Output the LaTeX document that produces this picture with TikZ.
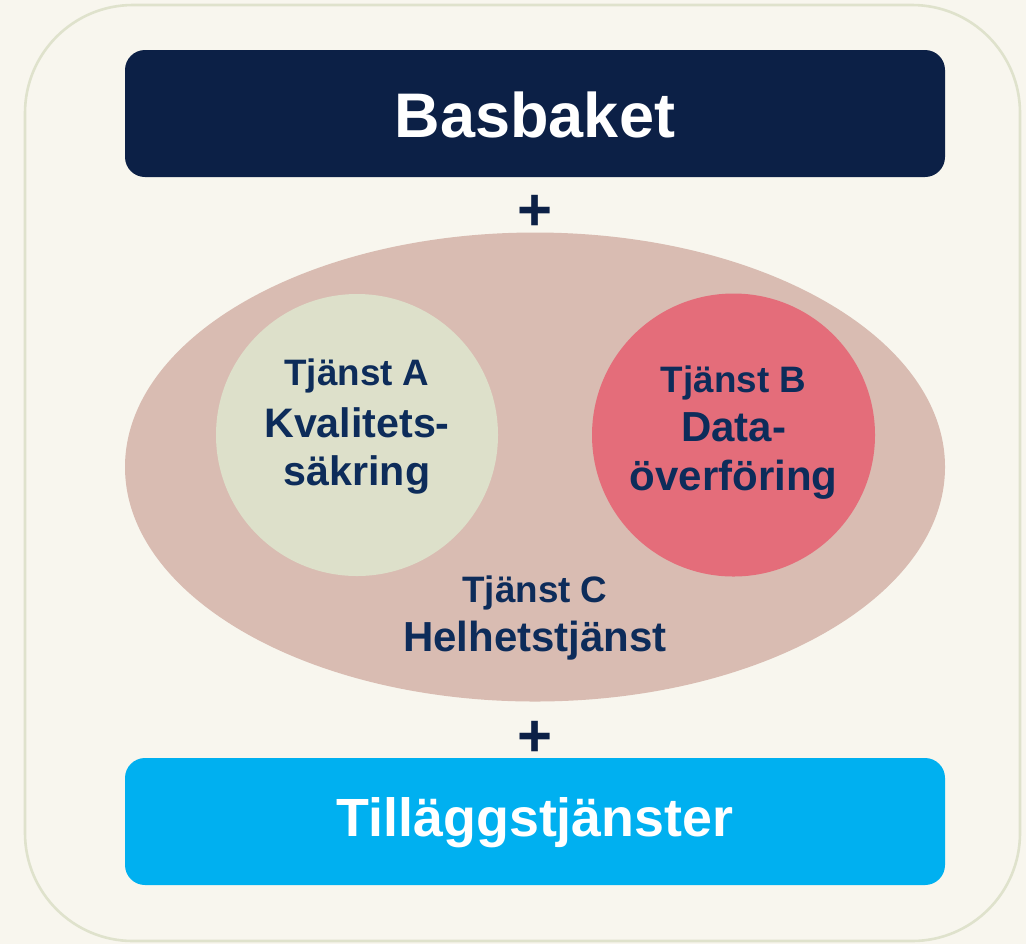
\documentclass[tikz,border=0pt]{standalone}
\usepackage{fontspec}
\setmainfont{Liberation Sans}
\definecolor{bgc}{HTML}{F8F6EE}
\definecolor{frame}{HTML}{DFE2CC}
\definecolor{navy}{HTML}{0C2046}
\definecolor{txt}{HTML}{0D2C5A}
\definecolor{ell}{HTML}{D9BCB2}
\definecolor{circA}{HTML}{DDE0CA}
\definecolor{circB}{HTML}{E46D7A}
\definecolor{cyanbox}{HTML}{00B0F0}
\begin{document}
\begin{tikzpicture}[x=0.5pt,y=-0.5pt,
  big/.style={font=\fontsize{31.5}{36}\selectfont\bfseries},
  small/.style={font=\fontsize{18.4}{25}\selectfont\bfseries, text=txt, align=center},
  med/.style={font=\fontsize{21}{25}\selectfont\bfseries, text=txt, align=center},
  plus/.style={font=\fontsize{30}{30}\selectfont\bfseries, text=navy, inner sep=0pt}]
\fill[bgc] (0,0) rectangle (1026,944);
\useasboundingbox (0,0) rectangle (1026,944);
\draw[frame, line width=1.3pt, fill=bgc, rounded corners=54pt] (25,5) rectangle (1020,941);
\fill[navy, rounded corners=10pt] (125,50) rectangle (945,177);
\node[big, text=white] (bas) at (535,115) {Basbaket};
\node[plus] (p1) at (535,213) {+};
\fill[ell] (535,467) ellipse [x radius=410, y radius=234.5];
\node[circle, fill=circA, minimum size=141pt, inner sep=0pt] (ca) at (357,435) {};
\node[circle, fill=circB, minimum size=141.5pt, inner sep=0pt] (cb) at (733.5,435) {};
\node[small, anchor=base] (ta) at (357,385) {Tjänst A};
\node[med, font=\fontsize{20.6}{25}\selectfont\bfseries, anchor=base] (ka) at (357,437) {Kvalitets-};
\node[med, font=\fontsize{20.6}{25}\selectfont\bfseries, anchor=base] (sa) at (357,485) {säkring};
\node[small, anchor=base] (tb) at (733.5,392) {Tjänst B};
\node[med, anchor=base] (db) at (733.5,441) {Data-};
\node[med, anchor=base] (ob) at (733.5,490) {överföring};
\node[small, anchor=base] (tc) at (535,602) {Tjänst C};
\node[med, anchor=base] (hc) at (535,651) {Helhetstjänst};
\node[plus] (p2) at (535,739) {+};
\fill[cyanbox, rounded corners=10pt] (125,758) rectangle (945,885);
\node[big, font=\fontsize{26.9}{32}\selectfont\bfseries, text=white] (till) at (535,823) {Tilläggstjänster};
\end{tikzpicture}
\end{document}
